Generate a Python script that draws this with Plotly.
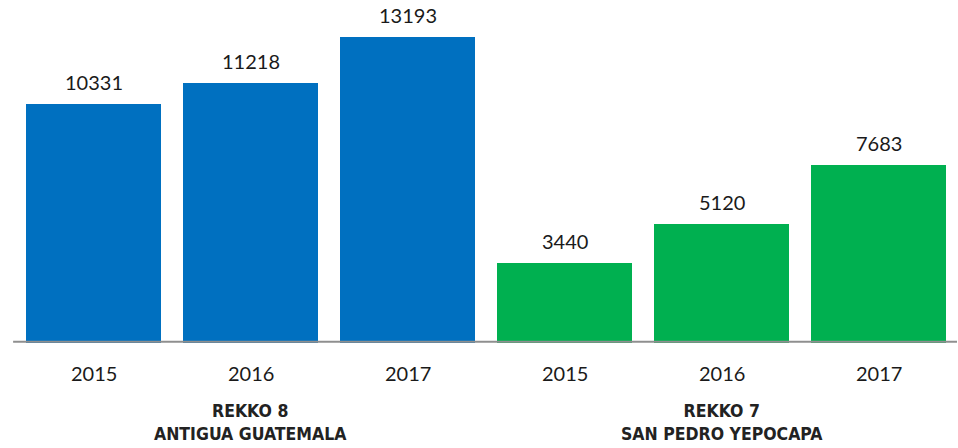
import plotly.graph_objects as go

years = ["2015", "2016", "2017", "2015", "2016", "2017"]
values = [10331, 11218, 13193, 3440, 5120, 7683]
bar_colors = ["#0070C0", "#0070C0", "#0070C0", "#00B050", "#00B050", "#00B050"]
groups = ["REKKO 8<br>ANTIGUA GUATEMALA", "REKKO 7<br>SAN PEDRO YEPOCAPA"]
group_pos = [1, 4]

xs = list(range(len(values)))

fig = go.Figure()
fig.add_trace(go.Bar(
    x=xs, y=values, marker=dict(color=bar_colors, line=dict(width=0)),
    width=0.854, hoverinfo="skip", showlegend=False,
))

label_font = dict(family="Lato, 'Open Sans', sans-serif", size=20, color="#1a1a1a")
annotations = []
for x, v in zip(xs, values):
    annotations.append(dict(x=x, y=v, xref="x", yref="y", text=str(v),
                            showarrow=False, yanchor="middle", yshift=22,
                            font=label_font))
for x, yr in zip(xs, years):
    annotations.append(dict(x=x, y=0, xref="x", yref="paper", text=yr,
                            showarrow=False, yanchor="middle", yshift=-30,
                            font=label_font))
for x, g in zip(group_pos, groups):
    annotations.append(dict(x=x, y=0, xref="x", yref="paper", text="<b>" + g + "</b>",
                            showarrow=False, yanchor="middle", yshift=-79,
                            font=dict(family="'Liberation Sans Narrow', 'DejaVu Sans Condensed', sans-serif",
                                      size=17.5, color="#222222")))

fig.update_layout(
    width=958, height=448,
    margin=dict(l=14.5, r=0.5, t=0, b=105),
    paper_bgcolor="white", plot_bgcolor="white",
    xaxis=dict(range=[-0.5, 5.5], showticklabels=False, showgrid=False,
               zeroline=False, showline=False, ticks=""),
    yaxis=dict(range=[0, 14797], showticklabels=False, showgrid=False,
               zeroline=False, showline=False, ticks=""),
    annotations=annotations,
    shapes=[dict(type="line", xref="paper", yref="paper", x0=-0.002, x1=1.0,
                 y0=0.004, y1=0.004, line=dict(color="#8f8f8f", width=2))],
    bargap=0,
)

fig.write_html("out.html", config={"displayModeBar": False},
               post_script="document.body.style.margin='0';document.body.style.overflow='hidden';")
